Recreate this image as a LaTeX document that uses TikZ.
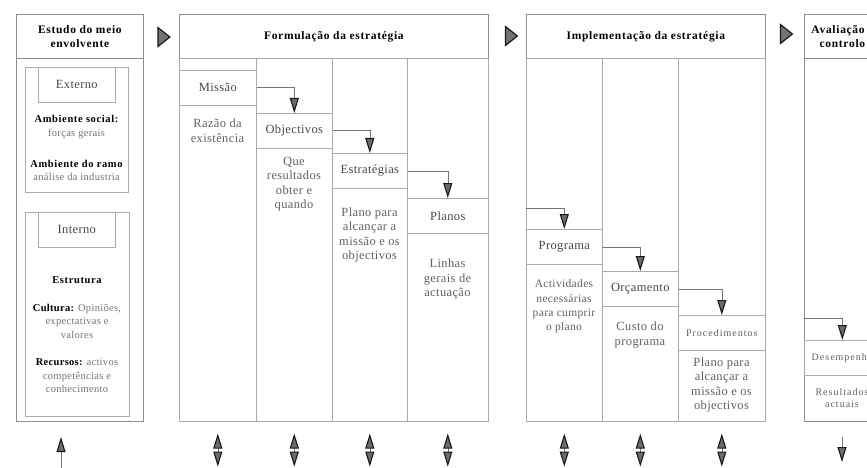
\documentclass[tikz,border=0pt]{standalone}
\usepackage{fontspec}
\setmainfont{Liberation Serif}
\newfontfamily\txtA{Liberation Serif}[LetterSpace=3]
\newfontfamily\txtB{Liberation Serif}[LetterSpace=6]
\newfontfamily\txtC{Liberation Serif}[LetterSpace=10]
\usetikzlibrary{arrows.meta,shapes.geometric}

\begin{document}
\begin{tikzpicture}[x=1pt,y=-1pt,
  frame/.style={draw=black!45,line width=0.8pt},
  cell/.style={draw=black!33,line width=0.6pt},
  area/.style 2 args={anchor=north west,inner sep=0pt,minimum width=#1pt,minimum height=#2pt},
  heading/.style={font=\txtB\bfseries\fontsize{11.5}{14}\selectfont,text=black,align=center},
  body/.style={font=\txtA\fontsize{12.5}{14.5}\selectfont,text=black!62,align=center,inner sep=0pt},
  label/.style={font=\txtA\fontsize{12.5}{14.5}\selectfont,text=black!72,align=center},
  note/.style={font=\txtA\fontsize{10.5}{13.5}\selectfont,text=black!55,align=center,inner sep=0pt},
  strong/.style={note,text=black,font=\txtB\bfseries\fontsize{10.5}{13.5}\selectfont},
  small/.style={font=\txtC\fontsize{10}{12.5}\selectfont,text=black!62,align=center},
  tipshape/.tip={Triangle[length=15pt,width=9pt,color=black!90,fill=black!58,line width=1.1pt]},
  flow/.style={draw=black!55,line width=0.6pt,-tipshape},
  dual/.style={draw=black!55,line width=0.6pt,tipshape-tipshape},
  single/.style={draw=black!55,line width=0.6pt,-tipshape},
  pointer/.style={isosceles triangle,isosceles triangle stretches=true,
    minimum width=19pt,minimum height=12pt,inner sep=0pt,
    draw=black!90,fill=black!55,line width=1.2pt}
]
\useasboundingbox (0,0) rectangle (867,468);
\clip (0,0) rectangle (867,468);
\fill[white] (0,0) rectangle (867,468);

% ---------- Estudo do meio envolvente ----------
\node[area={127}{44},frame,heading] (esthead) at (16,14) {Estudo do meio\\envolvente};
\node[area={127}{363},frame] (estbody) at (16,58) {};
\node[area={103}{125},cell] (extgrp) at (25,67) {};
\node[area={77}{35},cell,label] (exttitle) at (38,67) {Externo};
\node[strong] (amb1) at (76.5,119) {Ambiente social:};
\node[note] (amb1t) at (76.5,134) {forças gerais};
\node[strong] (amb2) at (76.5,164) {Ambiente do ramo};
\node[note] (amb2t) at (76.5,177) {análise da industria};

\node[area={104}{204},cell] (intgrp) at (25,212) {};
\node[area={77}{35},cell,label] (inttitle) at (38,212) {Interno};
\node[strong] (estr) at (77,280) {Estrutura};
\node[note] (cult) at (77,321) {{\bfseries\color{black}Cultura:} Opiniões,\\expectativas e\\valores};
\node[note] (recu) at (77,376) {{\bfseries\color{black}Recursos:} activos\\competências e\\conhecimento};

% ---------- Formulação da estratégia ----------
\node[area={309}{44},frame,heading] (formhead) at (179,14) {Formulação da estratégia};
\node[area={309}{363},frame] (formbody) at (179,58) {};
\node[area={77}{363},cell] (f1) at (179,58) {};
\node[area={76}{363},cell] (f2) at (256,58) {};
\node[area={75}{363},cell] (f3) at (332,58) {};
\node[area={81}{363},cell] (f4) at (407,58) {};

\node[area={77}{35},cell,label] (missao) at (179,70) {Missão};
\node[area={76}{35},cell,label] (objectivos) at (256,113) {Objectivos};
\node[area={75}{35},cell,label] (estrategias) at (332,153) {Estratégias};
\node[area={81}{35},cell,label] (planos) at (407,198) {Planos};

\node[body] (razao) at (217.5,130.5) {Razão da\\existência};
\node[body] (quer) at (294,184) {Que\\resultados\\obter e\\quando};
\node[body] (plano1) at (369.5,235) {Plano para\\alcançar a\\missão e os\\objectivos};
\node[body] (linhas) at (447.5,279) {Linhas\\gerais de\\actuação};

\draw[flow] (missao.east) -| (objectivos.north);
\draw[flow] (objectivos.east) -| (estrategias.north);
\draw[flow] (estrategias.east) -| (planos.north);

% ---------- Implementação da estratégia ----------
\node[area={239}{44},frame,heading] (imphead) at (526,14) {Implementação da estratégia};
\node[area={239}{363},frame] (impbody) at (526,58) {};
\node[area={76}{363},cell] (i1) at (526,58) {};
\node[area={76}{363},cell] (i2) at (602,58) {};
\node[area={87}{363},cell] (i3) at (678,58) {};

\coordinate (ientry) at (526,208);
\node[area={76}{35},cell,label] (programa) at (526,229) {Programa};
\node[area={76}{35},cell,label] (orcamento) at (602,271) {Orçamento};
\node[area={87}{35},cell,small] (procedimentos) at (678,315) {Procedimentos};

\node[body,font=\txtA\fontsize{11.5}{14.2}\selectfont] (activ) at (564,306.5) {Actividades\\necessárias\\para cumprir\\o plano};
\node[body] (custo) at (640,335) {Custo do\\programa};
\node[body] (plano2) at (721.5,385) {Plano para\\alcançar a\\missão e os\\objectivos};

\draw[flow] (ientry) -| (programa.north);
\draw[flow] (programa.east) -| (orcamento.north);
\draw[flow] (orcamento.east) -| (procedimentos.north);

% ---------- Avaliação e controlo ----------
\node[area={76}{44},frame,heading] (avhead) at (804,14) {Avaliação e\\controlo};
\node[area={76}{363},frame] (avbody) at (804,58) {};
\coordinate (aentry) at (804,318);
\node[area={76}{35},cell,small] (desempenho) at (804,340) {Desempenho};
\node[small,inner sep=0pt] (result) at (842,398) {Resultados\\actuais};
\draw[flow] (aentry) -| (desempenho.north);

% ---------- pointers between the stages ----------
\node[pointer] (p1) at (162.5,37) {};
\node[pointer] (p2) at (510,36) {};
\node[pointer] (p3) at (785,34) {};

% ---------- arrows below the stages ----------
\coordinate (eu1) at (61,470);
\coordinate (eu2) at (61,437);
\draw[single] (eu1) -- (eu2);

\foreach \c in {f1,f2,f3,f4,i1,i2,i3}{
  \draw[dual] ([yshift=-12pt]\c.south) -- ([yshift=-45pt]\c.south);
}

\coordinate (av1) at (842,437);
\coordinate (av2) at (842,462);
\draw[single] (av1) -- (av2);
\end{tikzpicture}
\end{document}
